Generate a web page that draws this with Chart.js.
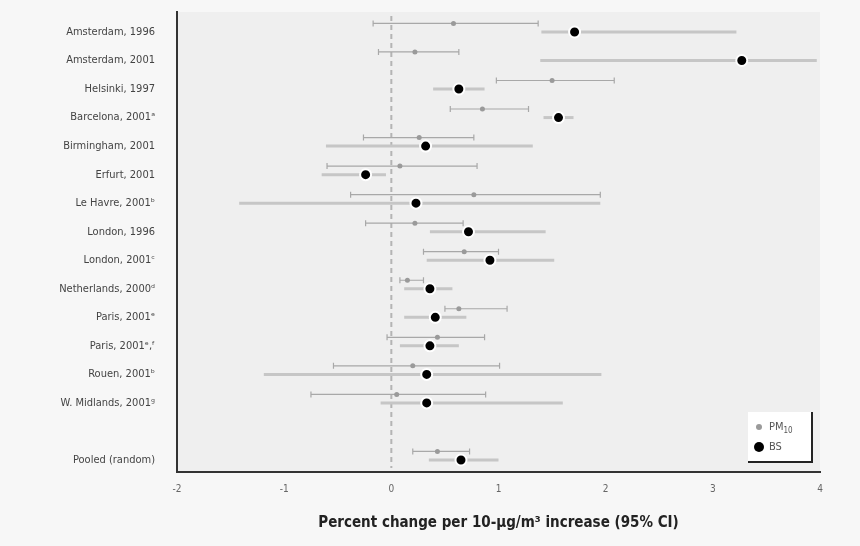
<!DOCTYPE html>
<html>
<head>
<meta charset="utf-8">
<title>Percent change per 10-μg/m³ increase</title>
<script src="https://cdn.jsdelivr.net/npm/chart.js@4.4.1/dist/chart.umd.min.js"></script>
<style>
  html, body { margin: 0; padding: 0; background: #f7f7f7; }
  #wrap { position: relative; width: 860px; height: 546px; }
</style>
</head>
<body>
<div id="wrap"><canvas id="forest" width="860" height="546"></canvas></div>
<script>
// === data ===
const studies = [
  'Amsterdam, 1996', 'Amsterdam, 2001', 'Helsinki, 1997', 'Barcelona, 2001ᵃ',
  'Birmingham, 2001', 'Erfurt, 2001', 'Le Havre, 2001ᵇ', 'London, 1996',
  'London, 2001ᶜ', 'Netherlands, 2000ᵈ', 'Paris, 2001ᵉ', 'Paris, 2001ᵉ,ᶠ',
  'Rouen, 2001ᵇ', 'W. Midlands, 2001ᵍ', 'Pooled (random)'
];
// row positions (pooled estimate sits one empty row lower)
const rowPos = [0, 1, 2, 3, 4, 5, 6, 7, 8, 9, 10, 11, 12, 13, 15];

const pm10Est = [0.58, 0.22, 1.50, 0.85, 0.26, 0.08, 0.77, 0.22, 0.68, 0.15, 0.63, 0.43, 0.20, 0.05, 0.43];
const pm10Lo  = [-0.17, -0.12, 0.98, 0.55, -0.26, -0.60, -0.38, -0.24, 0.30, 0.08, 0.50, -0.04, -0.54, -0.75, 0.20];
const pm10Hi  = [1.37, 0.63, 2.08, 1.28, 0.77, 0.80, 1.95, 0.67, 1.00, 0.30, 1.08, 0.87, 1.01, 0.88, 0.73];

const bsEst = [1.71, 3.27, 0.63, 1.56, 0.32, -0.24, 0.23, 0.72, 0.92, 0.36, 0.41, 0.36, 0.33, 0.33, 0.65];
const bsLo  = [1.40, 1.39, 0.39, 1.42, -0.61, -0.65, -1.42, 0.36, 0.33, 0.12, 0.12, 0.08, -1.19, -0.10, 0.35];
const bsHi  = [3.22, 3.97, 0.87, 1.70, 1.32, -0.05, 1.95, 1.44, 1.52, 0.57, 0.70, 0.63, 1.96, 1.60, 1.00];

const xTicks = [-2, -1, 0, 1, 2, 3, 4];
const pm10Shift = -0.3; // PM10 row drawn a little above BS row

const FONT = "'Liberation Sans Narrow', 'DejaVu Sans Condensed', 'Liberation Sans', sans-serif";

const pm10Points = rowPos.map((r, i) => ({ x: pm10Est[i], y: r + pm10Shift }));
const bsPoints = rowPos.map((r, i) => ({ x: bsEst[i], y: r }));

// === plugins ===
const plotBg = {
  id: 'plotBg',
  beforeDraw(chart) {
    const { ctx, chartArea: a } = chart;
    ctx.save();
    ctx.fillStyle = '#efefef';
    ctx.fillRect(a.left, a.top, a.right - a.left, a.bottom - a.top);
    // zero reference line
    const x0 = chart.scales.x.getPixelForValue(0);
    ctx.strokeStyle = '#b4b4b4';
    ctx.lineWidth = 2;
    ctx.setLineDash([5, 4]);
    ctx.beginPath();
    ctx.moveTo(x0, a.top + 4);
    ctx.lineTo(x0, a.bottom - 4);
    ctx.stroke();
    ctx.restore();
  }
};

const errorBars = {
  id: 'errorBars',
  beforeDatasetsDraw(chart) {
    const { ctx } = chart;
    const xs = chart.scales.x, ys = chart.scales.y;
    ctx.save();
    // BS confidence intervals: wide light bars
    ctx.strokeStyle = '#c6c6c6';
    ctx.lineWidth = 3;
    rowPos.forEach((r, i) => {
      const y = ys.getPixelForValue(r);
      ctx.beginPath();
      ctx.moveTo(xs.getPixelForValue(bsLo[i]), y);
      ctx.lineTo(xs.getPixelForValue(bsHi[i]), y);
      ctx.stroke();
    });
    // PM10 confidence intervals: thin darker lines with end caps
    ctx.strokeStyle = '#a8a8a8';
    ctx.lineWidth = 1.2;
    rowPos.forEach((r, i) => {
      const y = ys.getPixelForValue(r + pm10Shift);
      const a = xs.getPixelForValue(pm10Lo[i]), b = xs.getPixelForValue(pm10Hi[i]);
      ctx.beginPath();
      ctx.moveTo(a, y); ctx.lineTo(b, y);
      ctx.moveTo(a, y - 3); ctx.lineTo(a, y + 3);
      ctx.moveTo(b, y - 3); ctx.lineTo(b, y + 3);
      ctx.stroke();
    });
    ctx.restore();
  }
};

const boxLegend = {
  id: 'boxLegend',
  afterDraw(chart) {
    const { ctx, chartArea: a } = chart;
    const w = 64, h = 50;
    const left = a.right - 8 - w, top = a.bottom - 10 - h;
    ctx.save();
    ctx.fillStyle = '#ffffff';
    ctx.fillRect(left, top, w, h);
    ctx.strokeStyle = '#222';
    ctx.lineWidth = 2;
    ctx.beginPath();
    ctx.moveTo(left, top + h); ctx.lineTo(left + w, top + h); ctx.lineTo(left + w, top);
    ctx.stroke();
    // PM10
    ctx.fillStyle = '#9a9a9a';
    ctx.beginPath(); ctx.arc(left + 11, top + 15, 3, 0, Math.PI * 2); ctx.fill();
    ctx.fillStyle = '#555';
    ctx.font = '11px ' + FONT;
    ctx.textBaseline = 'middle';
    ctx.fillText('PM', left + 21, top + 15);
    const pmW = ctx.measureText('PM').width;
    ctx.font = '8px ' + FONT;
    ctx.fillText('10', left + 21 + pmW, top + 19);
    // BS
    ctx.fillStyle = '#000';
    ctx.beginPath(); ctx.arc(left + 11, top + 35, 5, 0, Math.PI * 2); ctx.fill();
    ctx.fillStyle = '#555';
    ctx.font = '11px ' + FONT;
    ctx.fillText('BS', left + 21, top + 35);
    ctx.restore();
  }
};

// === chart ===
new Chart(document.getElementById('forest'), {
  type: 'scatter',
  data: {
    datasets: [
      {
        label: 'PM10',
        data: pm10Points,
        pointRadius: 2.5,
        pointBackgroundColor: '#9a9a9a',
        pointBorderColor: '#9a9a9a',
        pointBorderWidth: 0
      },
      {
        label: 'BS',
        data: bsPoints,
        pointRadius: 5.5,
        pointBackgroundColor: '#000',
        pointBorderColor: '#ffffff',
        pointBorderWidth: 2
      }
    ]
  },
  options: {
    responsive: false,
    animation: false,
    layout: { padding: { top: 12, right: 40, left: 0, bottom: 14 } },
    plugins: {
      legend: { display: false },
      tooltip: { enabled: false }
    },
    scales: {
      x: {
        type: 'linear',
        min: -2, max: 4,
        afterBuildTicks: (s) => { s.ticks = xTicks.map(v => ({ value: v })); },
        afterFit: (s) => { s.height = 60; },
        grid: { display: false, drawTicks: true, tickLength: 5, tickColor: '#999' },
        border: { display: true, color: '#333', width: 2 },
        ticks: { color: '#666', font: { size: 10, family: FONT }, padding: 6 },
        title: {
          display: true,
          text: 'Percent change per 10-μg/m³ increase (95% CI)',
          color: '#222',
          font: { size: 15, weight: 'bold', family: FONT },
          padding: { top: 0, bottom: 0 }
        }
      },
      y: {
        type: 'linear',
        reverse: true,
        min: -0.7, max: 15.42,
        afterBuildTicks: (s) => { s.ticks = rowPos.map(v => ({ value: v })); },
        afterFit: (s) => { s.width = 177; s.paddingTop = 0; s.paddingBottom = 0; },
        grid: { display: false, drawTicks: false },
        border: { display: true, color: '#333', width: 2 },
        ticks: {
          color: '#444',
          font: { size: 11, family: FONT },
          padding: 22,
          callback: (v) => studies[rowPos.indexOf(v)] || ''
        }
      }
    }
  },
  plugins: [plotBg, errorBars, boxLegend]
});
</script>
</body>
</html>
